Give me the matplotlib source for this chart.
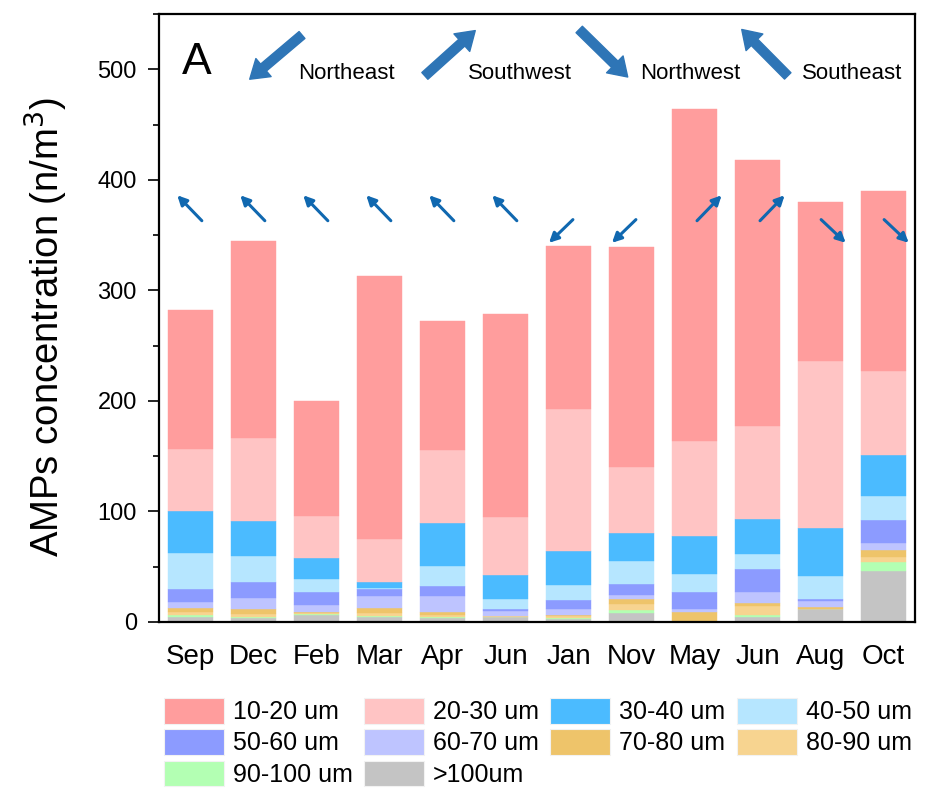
import numpy as np
import matplotlib
matplotlib.use("Agg")
import matplotlib.pyplot as plt
from matplotlib.patches import Patch

plt.rcParams['font.family'] = ['Liberation Sans', 'DejaVu Sans']

months = ["Sep", "Dec", "Feb", "Mar", "Apr", "Jun", "Jan", "Nov", "May", "Jun", "Aug", "Oct"]

# stacked from bottom (>100um) to top (10-20 um), n/m3
gt100 = [4.8, 3.3, 6.3, 4.8, 3.9, 4.8, 2.4, 8.4, 0.0, 4.8, 11.7, 46.0]
s90_100 = [1.5, 0.9, 0.9, 0.9, 0.9, 0.0, 0.9, 2.7, 0.0, 1.5, 0.0, 8.4]
s80_90 = [3.0, 2.7, 1.2, 2.7, 1.5, 0.3, 1.8, 5.4, 0.0, 8.1, 0.0, 4.0]
s70_80 = [3.6, 5.1, 0.9, 4.5, 2.7, 0.3, 1.2, 4.0, 9.0, 2.5, 1.8, 6.6]
s60_70 = [5.4, 9.4, 6.3, 10.9, 14.8, 4.8, 5.1, 3.9, 2.4, 9.9, 5.1, 6.9]
s50_60 = [11.2, 14.6, 11.2, 5.7, 8.7, 1.8, 8.5, 9.9, 15.4, 21.0, 2.4, 20.8]
s40_50 = [32.5, 23.9, 12.2, 1.5, 18.0, 9.0, 13.5, 21.1, 16.8, 13.6, 20.8, 21.0]
s30_40 = [38.5, 31.5, 18.5, 5.4, 38.9, 21.2, 31.0, 24.9, 34.6, 32.2, 43.6, 37.0]
s20_30 = [56.0, 74.6, 38.5, 38.6, 66.6, 53.0, 128.6, 59.7, 85.8, 83.4, 151.1, 76.3]
s10_20 = [126.0, 179.0, 104.0, 238.0, 116.0, 183.0, 147.0, 199.0, 300.0, 241.0, 143.5, 163.0]

# wind direction arrow per month (direction the arrow points)
wind = ["NW", "NW", "NW", "NW", "NW", "NW", "SW", "SW", "NE", "NE", "SE", "SE"]

labels = ["10-20 um", "20-30 um", "30-40 um", "40-50 um", "50-60 um",
          "60-70 um", "70-80 um", "80-90 um", "90-100 um", ">100um"]
colors = ["#FF9D9D", "#FFC4C4", "#4BBBFF", "#B6E6FF", "#8C9BFF",
          "#BEC4FF", "#EEC46A", "#F7D490", "#B3FFB3", "#C4C4C4"]

series = [s10_20, s20_30, s30_40, s40_50, s50_60, s60_70, s70_80, s80_90, s90_100, gt100]

fig = plt.figure(figsize=(9.26, 7.93), dpi=100)
ax = fig.add_axes([159/926, 1-622/793, (915-159)/926, (622-14)/793])

x = np.arange(len(months))
bottom = np.zeros(len(months))
for vals, col in zip(series[::-1], colors[::-1]):
    ax.bar(x, vals, width=0.73, bottom=bottom, color=col, edgecolor=col, linewidth=0.3)
    bottom += np.array(vals)

ax.set_xlim(-0.5, 11.5)
ax.set_ylim(0, 550)
ax.set_xticks(x)
ax.set_xticklabels(months, fontsize=20)
ax.set_yticks(np.arange(0, 501, 100))
ax.set_yticks(np.arange(50, 551, 100), minor=True)
ax.tick_params(axis='y', labelsize=17, length=8, width=1.2, direction='out', pad=8)
ax.tick_params(axis='y', which='minor', length=4, width=1.2)
ax.tick_params(axis='x', length=0, pad=16)
for sp in ax.spines.values():
    sp.set_linewidth(1.6)
ax.set_ylabel("AMPs concentration (n/m$^3$)", fontsize=27.5, labelpad=20)
ax.yaxis.label.set_y(0.485)

# small wind arrows above bars: (tail dx, tail y, head dx, head y)
offs = {"NW": (0.18, 363, -0.21, 386),
        "SW": (0.07, 364, -0.31, 343),
        "NE": (0.04, 363, 0.43, 386),
        "SE": (0.01, 364, 0.40, 343)}
for i, w in enumerate(wind):
    tx, ty, hx, hy = offs[w]
    ax.annotate("", xy=(i + hx, hy), xytext=(i + tx, ty),
                arrowprops=dict(arrowstyle='-|>', lw=2.2, color='#1068B0',
                                mutation_scale=14, shrinkA=0, shrinkB=0))

# big legend arrows
big = [((1.77, 531), (0.94, 491), "Northeast", 1.71),
       ((3.72, 494), (4.52, 535), "Southwest", 4.40),
       ((6.17, 536), (6.94, 493), "Northwest", 7.13),
       ((9.48, 494), (8.75, 536), "Southeast", 9.71)]
for tail, head, name, lx in big:
    ax.annotate("", xy=head, xytext=tail,
                arrowprops=dict(width=6.5, headwidth=17, headlength=13,
                                color='#2E75B6', shrink=0))
    ax.text(lx, 496, name, fontsize=16, ha='left', va='center')

ax.text(-0.13, 506, "A", fontsize=32, ha='left', va='center')

handles = [Patch(facecolor=c, edgecolor='#F2F2F2', linewidth=0.8, label=l)
           for c, l in zip(colors, labels)]
order = [0, 4, 8, 1, 5, 9, 2, 6, 3, 7]
fig.legend([handles[k] for k in order], [labels[k] for k in order],
           loc='upper left', bbox_to_anchor=(164/926, 1-698/793), ncol=4,
           frameon=False, fontsize=18, borderpad=0, borderaxespad=0,
           handlelength=2.4, handleheight=1.2, handletextpad=0.36,
           labelspacing=0.2, columnspacing=0.45)

fig.savefig("out.png", dpi=100)
